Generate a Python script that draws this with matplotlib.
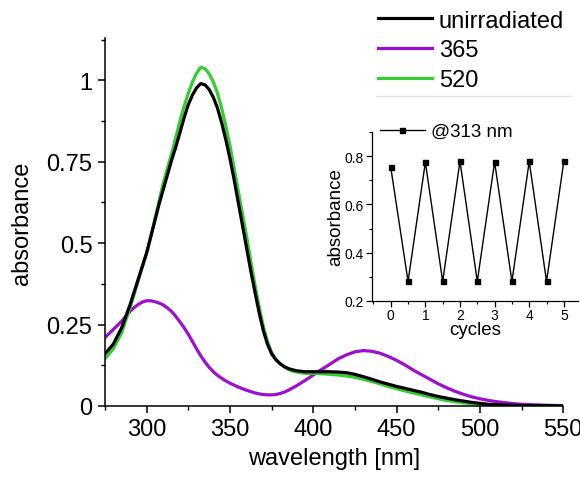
import matplotlib
matplotlib.use("Agg")
import matplotlib.pyplot as plt
import matplotlib.ticker as mticker
from matplotlib.lines import Line2D

plt.rcParams.update({
    "font.family": ["Liberation Sans", "DejaVu Sans"],
    "axes.spines.top": False,
    "axes.spines.right": False,
    "xtick.direction": "out",
    "ytick.direction": "out",
})

BLACK = "#000000"
PURPLE = "#9B0FCF"
GREEN = "#33CC33"

# spectra (wavelength in nm, absorbance)
WL = [275, 280, 285,
      290, 292.5, 295, 297.5, 300, 302.5, 305, 307.5, 310, 312.5, 315, 317.5,
      320, 322.5, 325, 327.5, 330, 332.5, 335, 337.5, 340, 342.5, 345, 347.5,
      350, 352.5, 355, 357.5, 360, 362.5, 365, 367.5, 370, 372.5, 375, 377.5,
      380, 382.5, 385, 387.5, 390,
      395, 400, 405, 410, 415, 420, 425, 430, 435, 440, 445, 450, 455, 460,
      465, 470, 475, 480, 485, 490, 495, 500, 505, 510, 515, 520, 525, 530,
      540, 550]

UNIRR = [0.16, 0.19, 0.24,
         0.31, 0.35, 0.39, 0.43, 0.47, 0.52, 0.57, 0.62, 0.665, 0.71, 0.755,
         0.795, 0.84, 0.885, 0.925, 0.955, 0.977, 0.99, 0.986, 0.972, 0.948,
         0.915, 0.87, 0.818, 0.76, 0.695, 0.625, 0.555, 0.485, 0.415, 0.35,
         0.287, 0.232, 0.19, 0.16, 0.142, 0.13, 0.121, 0.115, 0.111, 0.108,
         0.105, 0.105, 0.105, 0.105, 0.104, 0.102, 0.097, 0.09, 0.082, 0.074,
         0.067, 0.06, 0.054, 0.048, 0.042, 0.035, 0.029, 0.024, 0.019, 0.015,
         0.011, 0.008, 0.005, 0.004, 0.003, 0.002, 0.0015, 0.001,
         0.001, 0.0]

IRR365 = [0.21, 0.235, 0.26,
          0.29, 0.302, 0.312, 0.319, 0.323, 0.323, 0.32, 0.316, 0.31, 0.301,
          0.29, 0.275, 0.258, 0.24, 0.22, 0.198, 0.175, 0.154, 0.135, 0.119,
          0.105, 0.094, 0.085, 0.077, 0.07, 0.064, 0.058, 0.053, 0.048, 0.044,
          0.04, 0.037, 0.035, 0.034, 0.034, 0.035, 0.038, 0.042, 0.048, 0.055,
          0.062,
          0.078, 0.095, 0.112, 0.128, 0.145, 0.157, 0.166, 0.17, 0.168, 0.162,
          0.152, 0.14, 0.126, 0.11, 0.096, 0.082, 0.068, 0.056, 0.045, 0.036,
          0.028, 0.022, 0.017, 0.013, 0.01, 0.007, 0.005, 0.004,
          0.002, 0.001]

IRR520 = [0.145, 0.175, 0.225,
          0.30, 0.342, 0.385, 0.428, 0.47, 0.52, 0.575, 0.63, 0.685, 0.73,
          0.775, 0.825, 0.875, 0.92, 0.96, 0.995, 1.022, 1.04, 1.036, 1.02,
          0.995, 0.96, 0.915, 0.86, 0.80, 0.73, 0.66, 0.59, 0.52, 0.445, 0.372,
          0.305, 0.245, 0.198, 0.165, 0.144, 0.13, 0.12, 0.112, 0.107, 0.104,
          0.1, 0.1, 0.099, 0.097, 0.095, 0.092, 0.088, 0.082, 0.075, 0.068,
          0.06, 0.053, 0.046, 0.04, 0.034, 0.028, 0.022, 0.017, 0.013, 0.009,
          0.007, 0.005, 0.0035, 0.002, 0.0015, 0.001, 0.001, 0.0005,
          0.0, 0.0]

# switching cycles @313 nm
CYCLES = [0, 0.5, 1, 1.5, 2, 2.5, 3, 3.5, 4, 4.5, 5]
ABS313 = [0.755, 0.28, 0.776, 0.28, 0.78, 0.28, 0.777, 0.28, 0.779, 0.28, 0.78]

fig = plt.figure(figsize=(5.8, 4.81), dpi=100)
ax = fig.add_axes([0.181, 0.154, 0.790, 0.765])

ax.plot(WL, UNIRR, color=BLACK, lw=2.3, zorder=3, solid_joinstyle="round")
ax.plot(WL, IRR365, color=PURPLE, lw=2.3, zorder=2, solid_joinstyle="round")
ax.plot(WL, IRR520, color=GREEN, lw=2.3, zorder=2, solid_joinstyle="round")

ax.set_xlim(275, 550)
ax.set_ylim(0, 1.13)
ax.xaxis.set_major_locator(mticker.MultipleLocator(50))
ax.xaxis.set_minor_locator(mticker.MultipleLocator(25))
ax.set_yticks([0, 0.25, 0.5, 0.75, 1])
ax.set_yticklabels(["0", "0.25", "0.5", "0.75", "1"])
ax.yaxis.set_minor_locator(mticker.MultipleLocator(0.125))
for sp in ("left", "bottom"):
    ax.spines[sp].set_linewidth(1.1)
ax.tick_params(which="major", length=5, width=1.1, labelsize=17, pad=4)
ax.tick_params(which="minor", length=3, width=1.0)
ax.set_xlabel("wavelength [nm]", fontsize=17, labelpad=5)
ax.set_ylabel("absorbance", fontsize=17, labelpad=10)

handles = [Line2D([0], [0], color=c, lw=2.3) for c in (BLACK, PURPLE, GREEN)]
fig.legend(handles, ["unirradiated", "365", "520"], loc="upper left",
           bbox_to_anchor=(361 / 580, 1 + 6 / 481), frameon=False,
           fontsize=17, handlelength=2.3, handletextpad=0.3,
           labelspacing=0.33, borderpad=0.2)
fig.add_artist(Line2D([376 / 580, 571 / 580], [1 - 97 / 481] * 2,
                      transform=fig.transFigure, color="#E2E2E2", lw=1.0))

# inset
ins = fig.add_axes([371.7 / 580, 1 - 301.7 / 481, 206 / 580, 168.4 / 481])
ins.patch.set_alpha(0)
ins.plot(CYCLES, ABS313, color=BLACK, lw=1.0, marker="s", ms=3.6,
         label="@313 nm")
ins.set_xlim(-0.55, 5.4)
ins.set_ylim(0.2, 0.9)
ins.xaxis.set_major_locator(mticker.MultipleLocator(1))
ins.xaxis.set_minor_locator(mticker.MultipleLocator(0.5))
ins.yaxis.set_major_locator(mticker.FixedLocator([0.2, 0.4, 0.6, 0.8]))
ins.yaxis.set_minor_locator(mticker.MultipleLocator(0.1))
ins.yaxis.set_major_formatter(mticker.FormatStrFormatter("%.1f"))
for sp in ("left", "bottom"):
    ins.spines[sp].set_linewidth(0.9)
ins.tick_params(which="major", length=4, width=0.9, labelsize=10, pad=1.5)
ins.tick_params(which="minor", length=2.5, width=0.8)
ins.set_xlabel("cycles", fontsize=13.5, labelpad=-1)
ins.set_ylabel("absorbance", fontsize=13.5, labelpad=0)
ins.legend(loc="upper left", bbox_to_anchor=(0.04, 1.055), frameon=False,
           fontsize=13.5, handlelength=2.4, handletextpad=0.3,
           borderpad=0.0, borderaxespad=0.0)

fig.savefig("out.png", dpi=100)
